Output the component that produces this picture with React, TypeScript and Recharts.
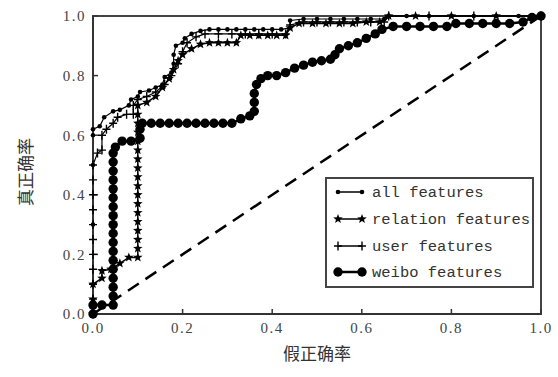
import React from 'react';
import { LineChart, Line, XAxis, YAxis, ReferenceArea } from 'recharts';

// tick values
const xTicks = [0, 0.2, 0.4, 0.6, 0.8, 1.0];
const yTicks = [0, 0.2, 0.4, 0.6, 0.8, 1.0];

const seriesNames = ['all features', 'relation features', 'user features', 'weibo features'];

// ROC points: [false positive rate, true positive rate]
const allFeatures: [number, number][] = [
  [0, 0], [0, 0.3], [0, 0.5], [0, 0.6], [0, 0.62], [0.015, 0.63], [0.025, 0.66], [0.045, 0.68],
  [0.06, 0.685], [0.08, 0.7], [0.085, 0.72], [0.1, 0.73], [0.105, 0.745], [0.125, 0.75], [0.14, 0.76],
  [0.155, 0.77], [0.16, 0.795], [0.175, 0.81], [0.18, 0.84], [0.18, 0.87], [0.185, 0.9], [0.2, 0.91],
  [0.205, 0.925], [0.22, 0.94], [0.24, 0.95], [0.26, 0.955], [0.28, 0.955], [0.3, 0.955], [0.32, 0.955],
  [0.34, 0.955], [0.36, 0.955], [0.38, 0.955], [0.4, 0.955], [0.42, 0.955], [0.44, 0.96], [0.44, 0.985],
  [0.47, 0.99], [0.5, 0.99], [0.53, 0.99], [0.56, 0.99], [0.59, 0.99], [0.62, 0.99], [0.65, 0.99],
  [0.66, 1], [0.7, 1], [0.75, 1], [0.8, 1], [0.85, 1], [0.9, 1], [0.95, 1], [1, 1],
];

const relationFeatures: [number, number][] = [
  [0, 0], [0, 0.05], [0, 0.1], [0.02, 0.12], [0.02, 0.145], [0.04, 0.15], [0.06, 0.17], [0.08, 0.19],
  [0.1, 0.19], [0.1, 0.22], [0.1, 0.25], [0.1, 0.28], [0.1, 0.31], [0.1, 0.34], [0.1, 0.37], [0.1, 0.4],
  [0.1, 0.43], [0.1, 0.46], [0.1, 0.49], [0.1, 0.52], [0.1, 0.55], [0.1, 0.58], [0.1, 0.61], [0.1, 0.64],
  [0.1, 0.67], [0.1, 0.7], [0.12, 0.71], [0.14, 0.73], [0.155, 0.76], [0.17, 0.79], [0.18, 0.82],
  [0.19, 0.85], [0.2, 0.87], [0.22, 0.89], [0.24, 0.905], [0.26, 0.91], [0.28, 0.91], [0.3, 0.91],
  [0.32, 0.91], [0.33, 0.935], [0.35, 0.935], [0.37, 0.935], [0.39, 0.935], [0.41, 0.935], [0.43, 0.935],
  [0.44, 0.96], [0.46, 0.975], [0.49, 0.975], [0.52, 0.975], [0.55, 0.975], [0.58, 0.975], [0.61, 0.98],
  [0.64, 0.98], [0.66, 1], [0.72, 1], [0.8, 1], [0.9, 1], [1, 1],
];

const userFeatures: [number, number][] = [
  [0, 0], [0, 0.05], [0, 0.1], [0, 0.15], [0, 0.2], [0, 0.25], [0, 0.3], [0, 0.35], [0, 0.4], [0, 0.45],
  [0, 0.5], [0.01, 0.54], [0.02, 0.55], [0.02, 0.6], [0.03, 0.62], [0.045, 0.64], [0.055, 0.66],
  [0.075, 0.67], [0.09, 0.67], [0.09, 0.7], [0.1, 0.72], [0.12, 0.73], [0.14, 0.745], [0.16, 0.77],
  [0.175, 0.8], [0.19, 0.84], [0.2, 0.88], [0.21, 0.91], [0.23, 0.93], [0.25, 0.94], [0.28, 0.94],
  [0.31, 0.94], [0.34, 0.94], [0.37, 0.94], [0.4, 0.94], [0.43, 0.94], [0.44, 0.97], [0.47, 0.98],
  [0.5, 0.98], [0.53, 0.98], [0.56, 0.98], [0.59, 0.98], [0.62, 0.98], [0.65, 0.98], [0.66, 1],
  [0.75, 1], [0.85, 1], [1, 1],
];

const weiboFeatures: [number, number][] = [
  [0, 0], [0, 0.03], [0.02, 0.03], [0.045, 0.03], [0.045, 0.06], [0.045, 0.09], [0.045, 0.12],
  [0.045, 0.15], [0.045, 0.18], [0.045, 0.21], [0.045, 0.24], [0.045, 0.27], [0.045, 0.3], [0.045, 0.33],
  [0.045, 0.36], [0.045, 0.39], [0.045, 0.42], [0.045, 0.45], [0.045, 0.48], [0.045, 0.51], [0.045, 0.54],
  [0.05, 0.56], [0.065, 0.58], [0.085, 0.58], [0.105, 0.59], [0.105, 0.62], [0.11, 0.64], [0.13, 0.64],
  [0.15, 0.64], [0.17, 0.64], [0.19, 0.64], [0.21, 0.64], [0.23, 0.64], [0.25, 0.64], [0.27, 0.64],
  [0.29, 0.64], [0.31, 0.64], [0.33, 0.655], [0.35, 0.665], [0.36, 0.68], [0.36, 0.71], [0.36, 0.74],
  [0.365, 0.77], [0.375, 0.79], [0.39, 0.8], [0.41, 0.8], [0.43, 0.81], [0.45, 0.825], [0.47, 0.835],
  [0.49, 0.845], [0.51, 0.85], [0.53, 0.855], [0.54, 0.87], [0.55, 0.89], [0.57, 0.9], [0.59, 0.91],
  [0.61, 0.925], [0.63, 0.94], [0.645, 0.955], [0.67, 0.965], [0.7, 0.965], [0.73, 0.965], [0.76, 0.965],
  [0.79, 0.965], [0.81, 0.975], [0.84, 0.975], [0.87, 0.975], [0.9, 0.975], [0.93, 0.975], [0.96, 0.98],
  [0.98, 0.995], [1, 1],
];

const chance: [number, number][] = [[0, 0], [1, 1]];

const toRows = (pts: [number, number][]) => pts.map(([x, y]) => ({ x, y }));

const INK = '#000';

function starPath(cx: number, cy: number, R: number, r: number) {
  let d = '';
  for (let i = 0; i < 10; i++) {
    const a = -Math.PI / 2 + (i * Math.PI) / 5;
    const rad = i % 2 === 0 ? R : r;
    d += (i === 0 ? 'M' : 'L') + (cx + rad * Math.cos(a)).toFixed(2) + ',' + (cy + rad * Math.sin(a)).toFixed(2);
  }
  return d + 'Z';
}

const SmallDot = (cx: number, cy: number, k?: any) => <circle key={k} cx={cx} cy={cy} r={2.3} fill={INK} />;
const BigDot = (cx: number, cy: number, k?: any) => <circle key={k} cx={cx} cy={cy} r={4.7} fill={INK} />;
const StarDot = (cx: number, cy: number, k?: any) => <path key={k} d={starPath(cx, cy, 5, 2.1)} fill={INK} />;
const PlusDot = (cx: number, cy: number, k?: any) => (
  <path key={k} d={`M${cx - 4},${cy}H${cx + 4}M${cx},${cy - 4.5}V${cy + 4.5}`} stroke={INK} strokeWidth={1.4} fill="none" />
);

const dotFn = (shape: (cx: number, cy: number, k?: any) => React.ReactElement) => (p: any) =>
  shape(p.cx, p.cy, `d${p.index}`);

const fmt = (v: number) => v.toFixed(1);
const tickStyle = { fontSize: 15, fill: '#444', fontFamily: '"Liberation Serif", serif', letterSpacing: 1.5 };

function Legend() {
  const rows = [
    { name: seriesNames[0], y: 192, shape: SmallDot, w: 1.5 },
    { name: seriesNames[1], y: 219, shape: StarDot, w: 1.5 },
    { name: seriesNames[2], y: 246, shape: PlusDot, w: 1.5 },
    { name: seriesNames[3], y: 272, shape: BigDot, w: 2.5 },
  ];
  return (
    <svg width={558} height={377} style={{ position: 'absolute', left: 0, top: 0, pointerEvents: 'none' }}>
      <rect x={326} y={178} width={207} height={109} fill="#fff" stroke="#444" strokeWidth={2} />
      {rows.map((r) => (
        <g key={r.name}>
          <line x1={338} y1={r.y} x2={362} y2={r.y} stroke={INK} strokeWidth={r.w} />
          {r.shape(338, r.y)}
          {r.shape(362, r.y)}
          <text x={372} y={r.y + 5} fontSize={15.5} fill="#333" fontFamily='"Liberation Mono", monospace'>
            {r.name}
          </text>
        </g>
      ))}
      <text x={317} y={360} textAnchor="middle" fontSize={17} fill="#333" fontFamily='"Noto Sans CJK SC", sans-serif'>
        假正确率
      </text>
      <text
        x={24}
        y={172}
        textAnchor="middle"
        fontSize={17}
        fill="#333"
        fontFamily='"Noto Sans CJK SC", sans-serif'
        transform="rotate(-90 24 172)"
        dominantBaseline="central"
      >
        真正确率
      </text>
    </svg>
  );
}

export default function App() {
  return (
    <div style={{ position: 'absolute', left: 0, top: 0, width: 558, height: 377, background: '#fff' }}>
      <LineChart width={558} height={377} margin={{ top: 16, right: 17, bottom: 0, left: 0 }}>
        <XAxis
          dataKey="x"
          type="number"
          domain={[0, 1]}
          ticks={xTicks}
          tickFormatter={fmt}
          allowDuplicatedCategory={false}
          height={63}
          tickSize={-5}
          tickMargin={13}
          axisLine={{ stroke: '#333', strokeWidth: 2 }}
          tickLine={{ stroke: '#333', strokeWidth: 1.5 }}
          tick={tickStyle}
        />
        <YAxis
          type="number"
          domain={[0, 1]}
          ticks={yTicks}
          tickFormatter={fmt}
          width={93}
          tickSize={-5}
          tickMargin={12}
          axisLine={{ stroke: '#333', strokeWidth: 2 }}
          tickLine={{ stroke: '#333', strokeWidth: 1.5 }}
          tick={tickStyle}
        />
        <ReferenceArea x1={0} x2={1} y1={0} y2={1} fill="none" stroke="#444" strokeWidth={2} />
        <Line data={toRows(chance)} dataKey="y" stroke={INK} strokeWidth={2.5} strokeDasharray="13 8" dot={false} isAnimationActive={false} />
        <Line data={toRows(weiboFeatures)} dataKey="y" stroke={INK} strokeWidth={2.5} dot={dotFn(BigDot)} isAnimationActive={false} />
        <Line data={toRows(relationFeatures)} dataKey="y" stroke={INK} strokeWidth={1.5} dot={dotFn(StarDot)} isAnimationActive={false} />
        <Line data={toRows(userFeatures)} dataKey="y" stroke={INK} strokeWidth={1.2} dot={dotFn(PlusDot)} isAnimationActive={false} />
        <Line data={toRows(allFeatures)} dataKey="y" stroke={INK} strokeWidth={1.2} dot={dotFn(SmallDot)} isAnimationActive={false} />
      </LineChart>
      <Legend />
    </div>
  );
}
